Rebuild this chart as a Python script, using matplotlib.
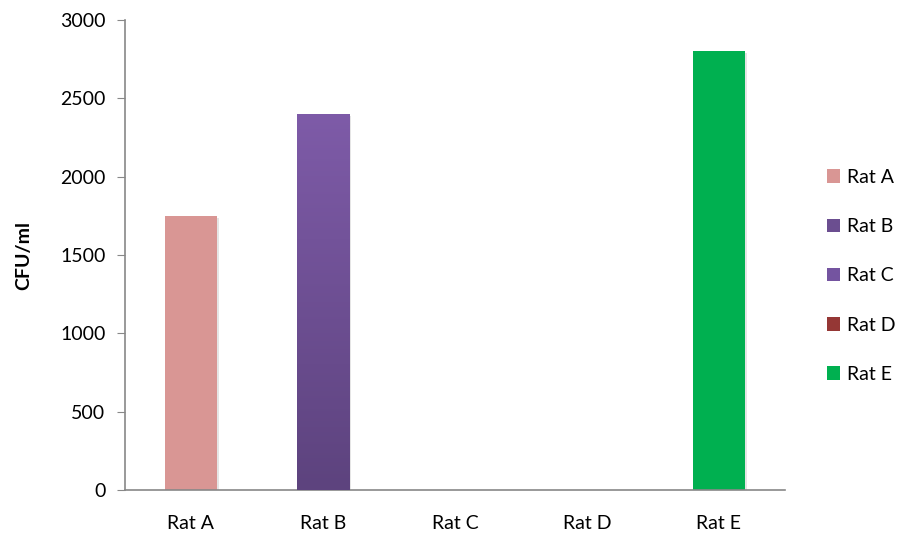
import numpy as np
import matplotlib.pyplot as plt
import matplotlib.patheffects as pe
from matplotlib.colors import LinearSegmentedColormap
from matplotlib.patches import Patch

plt.rcParams['font.family'] = ['Lato', 'DejaVu Sans']

# data
rats = ['Rat A', 'Rat B', 'Rat C', 'Rat D', 'Rat E']
cfu = [1750, 2400, 0, 0, 2800]
colors = ['#D99694', '#6B4E90', '#7454A0', '#953735', '#00B050']

fig = plt.figure(figsize=(9.09, 5.39), dpi=100)
ax = fig.add_axes([0.1375, 0.0909, 0.726, 0.872])

x = np.arange(len(rats))
shadow = [pe.SimplePatchShadow(offset=(1.5, -1.5), shadow_rgbFace='#aaaaaa', alpha=0.3), pe.Normal()]
bars = ax.bar(x, cfu, width=0.4, color=colors, linewidth=0, zorder=2)
for b in bars:
    b.set_path_effects(shadow)

# gradient on Rat B bar (lighter top, darker bottom)
bb = bars[1]
grad = LinearSegmentedColormap.from_list('purp', ['#5D437E', '#7E5BA8'])
img = ax.imshow(np.linspace(0, 1, 256).reshape(-1, 1), cmap=grad, aspect='auto',
                origin='lower', extent=[bb.get_x(), bb.get_x() + bb.get_width(), 0, bb.get_height()],
                zorder=3)
img.set_clip_path(bb)

ax.set_xlim(-0.5, len(rats) - 0.5)
ax.set_ylim(0, 3000)
ax.set_yticks(np.arange(0, 3001, 500))
ax.set_xticks(x)
ax.set_xticklabels(rats)

for s in ['top', 'right']:
    ax.spines[s].set_visible(False)
for s in ['left', 'bottom']:
    ax.spines[s].set_color('#888888')
    ax.spines[s].set_linewidth(1.2)
ax.tick_params(axis='y', length=6, color='#888888', labelsize=14, pad=8)
ax.tick_params(axis='x', length=0, labelsize=14, pad=18)
ax.set_ylabel('CFU/ml', fontsize=14, fontweight='bold', labelpad=20)

handles = [Patch(facecolor=c, edgecolor='none') for c in colors]
fig.legend(handles, rats, loc='center left', bbox_to_anchor=(0.89, 0.488), frameon=False,
           fontsize=14, handlelength=0.7, handleheight=0.7, handletextpad=0.35,
           labelspacing=1.66)

fig.savefig('out.png', dpi=100)
